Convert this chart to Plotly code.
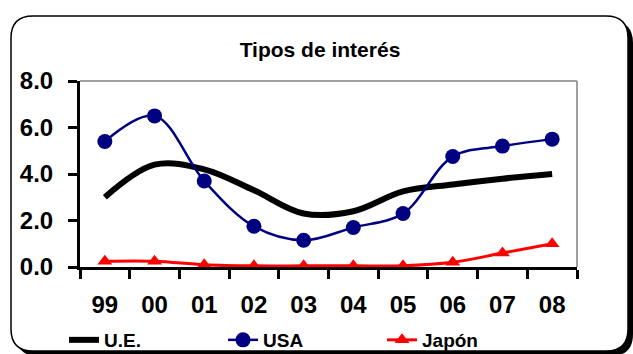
import plotly.graph_objects as go

years = ["99", "00", "01", "02", "03", "04", "05", "06", "07", "08"]
ue = [3.0, 4.4, 4.2, 3.3, 2.3, 2.4, 3.25, 3.55, 3.8, 4.0]
usa = [5.4, 6.5, 3.7, 1.75, 1.15, 1.7, 2.3, 4.75, 5.2, 5.5]
japon = [0.25, 0.25, 0.1, 0.05, 0.05, 0.05, 0.05, 0.2, 0.6, 1.0]
yticks = [0, 2, 4, 6, 8]

W, H = 633, 354
ML, MR, MT, MB = 80, 56, 81, 87
PW, PH = W - ML - MR, H - MT - MB
FONT = "Liberation Sans, Arial, sans-serif"


def px(x):
    return (x - ML) / PW


def py(y):
    return (H - MB - y) / PH


def rounded(x0, y0, x1, y1, r):
    rx, ry = r / PW, r / PH
    X0, X1 = px(x0), px(x1)
    Y0, Y1 = py(y0), py(y1)
    return (f"M {X0+rx},{Y0} L {X1-rx},{Y0} Q {X1},{Y0} {X1},{Y0-ry} "
            f"L {X1},{Y1+ry} Q {X1},{Y1} {X1-rx},{Y1} "
            f"L {X0+rx},{Y1} Q {X0},{Y1} {X0},{Y1+ry} "
            f"L {X0},{Y0-ry} Q {X0},{Y0} {X0+rx},{Y0} Z")


fig = go.Figure()
fig.add_trace(go.Scatter(x=years, y=ue, name="U.E.", mode="lines",
                         line=dict(color="black", width=6, shape="spline", smoothing=1)))
fig.add_trace(go.Scatter(x=years, y=usa, name="USA", mode="lines+markers",
                         line=dict(color="#000080", width=2.5, shape="spline", smoothing=1),
                         marker=dict(symbol="circle", size=15, color="#000080")))
fig.add_trace(go.Scatter(x=years, y=japon, name="Japón", mode="lines+markers",
                         line=dict(color="#FF0000", width=3, shape="spline", smoothing=1),
                         marker=dict(symbol="triangle-up", size=13, color="#FF0000")))

shapes = [
    dict(type="path", xref="paper", yref="paper", layer="below",
         path=rounded(16, 21, 633, 356, 22), fillcolor="black", line=dict(width=0)),
    dict(type="path", xref="paper", yref="paper", layer="below",
         path=rounded(11, 16, 628, 351, 22), fillcolor="white",
         line=dict(color="black", width=1.5)),
    dict(type="line", xref="paper", yref="paper", x0=0, x1=1, y0=1, y1=1,
         line=dict(color="#808080", width=1.5)),
    dict(type="line", xref="paper", yref="paper", x0=1, x1=1, y0=0, y1=1,
         line=dict(color="#808080", width=1.5)),
]

fig.update_layout(
    width=W, height=H,
    margin=dict(l=ML, r=MR, t=MT, b=MB, autoexpand=False),
    paper_bgcolor="white", plot_bgcolor="rgba(0,0,0,0)",
    font=dict(family=FONT, color="black"),
    title=dict(text="<b>Tipos de interés</b>", font=dict(size=21, family=FONT),
               xref="container", x=320 / W, xanchor="center",
               yref="container", y=1 - 50 / H, yanchor="middle"),
    shapes=shapes,
    showlegend=True,
    legend=dict(orientation="h", xref="container", yref="container",
                x=64 / W, xanchor="left", y=1 - 340 / H, yanchor="middle",
                entrywidth=114, entrywidthmode="pixels",
                font=dict(size=19, family=FONT, weight="bold"),
                bgcolor="rgba(0,0,0,0)", tracegroupgap=0),
    xaxis=dict(type="category", tickson="boundaries", ticks="outside", ticklen=9,
               tickwidth=3, tickcolor="black", showline=True, linecolor="black",
               linewidth=3, showgrid=False, zeroline=False, automargin=False,
               tickfont=dict(size=24, family=FONT, weight="bold"),
               ticklabelstandoff=14, range=[-0.5, 9.5]),
    yaxis=dict(range=[0, 8], tickvals=yticks, tickformat=".1f", ticks="outside",
               ticklen=9, tickwidth=3, tickcolor="black", showline=True,
               linecolor="black", linewidth=3, showgrid=False, zeroline=False,
               automargin=False,
               tickfont=dict(size=24, family=FONT, weight="bold"),
               ticklabelstandoff=10),
)

fig.write_html("out.html")
